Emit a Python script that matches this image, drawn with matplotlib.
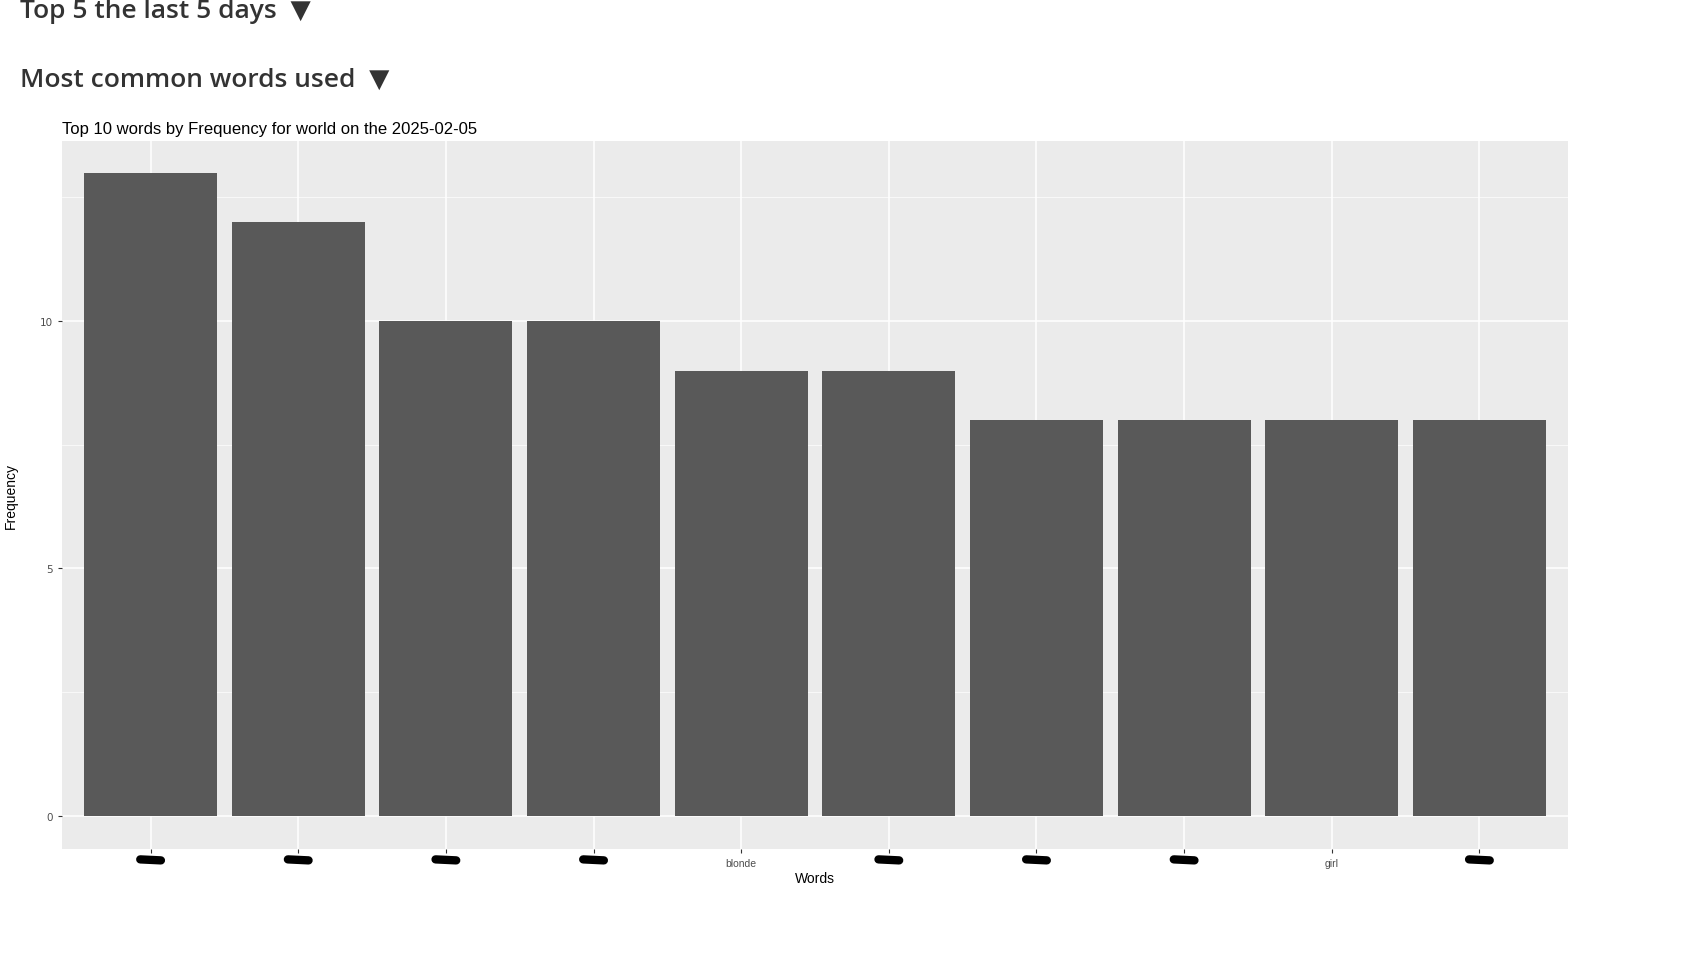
import matplotlib.pyplot as plt

words = ["", "", "", "", "blonde", "", "", "", "girl", ""]
freq = [13, 12, 10, 10, 9, 9, 8, 8, 8, 8]
redacted = [True, True, True, True, False, True, True, True, False, True]

W, H = 1693, 970
fig = plt.figure(figsize=(W / 100, H / 100), dpi=100)

def box(l, t, r, b):
    return [l / W, 1 - b / H, (r - l) / W, (b - t) / H]

fig.text(20 / W, 1 - 12 / H, "Top 5 the last 5 days  \u25BC", fontsize=19, color="#333333",
         fontweight="semibold", va="center", family=["Open Sans", "DejaVu Sans"])
fig.text(20 / W, 1 - 80 / H, "Most common words used  \u25BC", fontsize=19, color="#333333",
         fontweight="semibold", va="center", family=["Open Sans", "DejaVu Sans"])

ax = fig.add_axes(box(62, 142, 1568, 850))
ax.set_facecolor("#EBEBEB")
x = list(range(1, len(freq) + 1))
ax.bar(x, freq, width=0.9, color="#595959", zorder=3)
ax.set_xlim(0.4, 10.6)
ax.set_ylim(-0.67, 13.64)
ax.set_yticks([0, 5, 10])
ax.set_yticks([2.5, 7.5, 12.5], minor=True)
ax.grid(True, which="major", color="white", lw=1.1, zorder=0)
ax.grid(True, which="minor", axis="y", color="white", lw=0.5, zorder=0)
ax.set_xticks(x)
ax.set_xticklabels(words, fontsize=7.5, color="#4D4D4D", family="Liberation Sans")
ax.tick_params(axis="both", length=3, color="#333333", labelsize=7.5, labelcolor="#4D4D4D")
ax.tick_params(axis="y", which="minor", length=0)
for s in ax.spines.values():
    s.set_visible(False)
for xi, r in zip(x, redacted):
    if r:
        ax.plot([xi - 0.07, xi + 0.07], [-0.88, -0.9], color="black", lw=6,
                solid_capstyle="round", clip_on=False, zorder=5)
ax.set_xlabel("Words", fontsize=10, family="Liberation Sans", labelpad=2)
ax.set_ylabel("Frequency", fontsize=10, family="Liberation Sans", labelpad=16)
ax.set_title("Top 10 words by Frequency for world on the 2025-02-05", loc="left",
             fontsize=12, family="Liberation Sans", pad=6)

fig.savefig("out.png", dpi=100)
